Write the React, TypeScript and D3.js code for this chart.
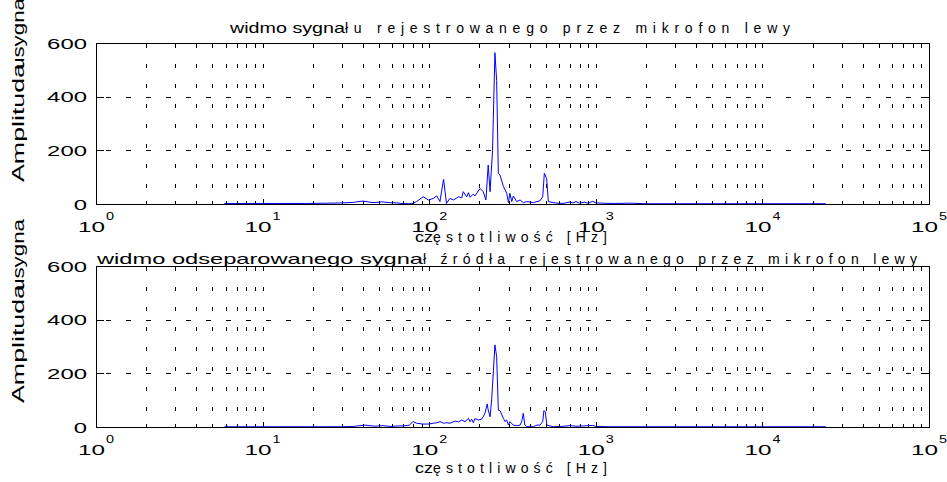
import { useEffect, useRef } from 'react';
import * as d3 from 'd3';

// amplitude axis ticks and the decade exponents of the log frequency axis
const yTicks = [0, 200, 400, 600];
const decades = [1, 10, 100, 1000, 10000, 100000];
const decadeExp = ['0', '1', '2', '3', '4', '5'];

// spectrum of the recorded signal (left microphone)
const topFreq = [5.9, 12, 18, 24, 30, 35, 40, 46, 52, 58, 64, 70, 76, 80, 84, 92, 99, 106, 111, 116, 122, 127, 133, 140, 150, 157, 160, 168, 172, 176, 184, 188, 202, 211, 219, 226, 232, 240, 248, 254, 260, 266, 279, 292, 299, 305, 313, 320, 335, 351, 367, 385, 422, 462, 480, 491, 507, 519, 556, 609, 650, 700, 730, 760, 800, 850, 900, 960, 1000, 1100, 1300, 1600, 2000, 3000, 5000, 10000, 24000];
const topAmp = [2, 2, 2, 3, 4, 6, 11, 5, 8, 5, 4, 1, 1, 2, 9, 27, 15, 21, 30, 9, 92, 2, 21, 15, 27, 23, 46, 27, 42, 25, 37, 30, 58, 46, 15, 145, 46, 200, 564, 460, 114, 108, 65, 40, 5, 40, 9, 30, 9, 15, 5, 9, 5, 12, 27, 114, 95, 9, 5, 2, 3, 8, 4, 9, 3, 7, 3, 10, 4, 3, 2, 3, 1, 1, 1, 1, 1];

// spectrum of the separated source signal
const bottomFreq = [5.9, 12, 18, 24, 30, 35, 41, 47, 53, 59, 65, 70, 76, 80, 84, 92, 99, 106, 111, 116, 122, 127, 133, 143, 150, 157, 164, 172, 176, 180, 184, 188, 197, 206, 211, 216, 223, 226, 232, 237, 243, 248, 254, 260, 266, 279, 285, 292, 299, 305, 320, 335, 351, 359, 367, 375, 385, 422, 443, 462, 480, 488, 498, 508, 556, 620, 700, 760, 850, 960, 1000, 1200, 2000, 5000, 10000, 24000];
const bottomAmp = [1, 1, 1, 1, 1, 2, 7, 3, 5, 2, 4, 4, 7, 20, 14, 11, 11, 14, 16, 20, 14, 16, 14, 22, 19, 26, 20, 32, 20, 29, 16, 31, 26, 29, 38, 51, 86, 63, 38, 101, 212, 306, 262, 63, 61, 32, 20, 26, 7, 20, 7, 5, 7, 20, 51, 7, 1, 1, 7, 7, 20, 61, 57, 7, 1, 2, 5, 3, 4, 6, 2, 1, 1, 1, 1, 1];

const topTitle = ['widmo sygna', 'łu rejestrowanego przez mikrofon lewy'];
const bottomTitle = ['widmo odseparowanego sygna', 'ł źródła rejestrowanego przez mikrofon lewy'];
const xLabel = ['cz', 'ęstotliwość [Hz]'];
const yLabel = ['Amplituda', 'usygna'];

const W = 947;
const H = 482;
const LEFT = 96;
const RIGHT = 929;
const FONT = 'Liberation Sans, Arial, Helvetica, sans-serif';

const panels = [
  {
    top: 43, bottom: 204, freq: topFreq, amp: topAmp,
    title: topTitle, titleX: [230, 345], titleW: [115, 445], titleY: 33,
    xlabY: 242, ylabY: 182,
  },
  {
    top: 266, bottom: 427, freq: bottomFreq, amp: bottomAmp,
    title: bottomTitle, titleX: [97, 423], titleW: [326, 494], titleY: 264,
    xlabY: 473, ylabY: 403,
  },
];

export default function App() {
  const svgRef = useRef<SVGSVGElement>(null);

  useEffect(() => {
    const svg = d3.select(svgRef.current);
    svg.selectAll('*').remove();

    const x = d3.scaleLog().domain([1, 1e5]).range([LEFT, RIGHT]);
    const px = (v: number) => Math.round(v) + 0.5;

    // text helper: stretched glyphs or spread spacing to match the original widths
    const addText = (g: any, str: string, tx: number, ty: number, size: number, width: number, adjust = 'spacingAndGlyphs') =>
      g.append('text')
        .attr('x', tx)
        .attr('y', ty)
        .attr('font-family', FONT)
        .attr('font-size', size)
        .attr('textLength', width)
        .attr('lengthAdjust', adjust)
        .attr('fill', '#000')
        .text(str);

    panels.forEach((p, i) => {
      const y = d3.scaleLinear().domain([0, 600]).range([p.bottom, p.top]);
      const g = svg.append('g');

      g.append('clipPath')
        .attr('id', `clip${i}`)
        .append('rect')
        .attr('x', LEFT)
        .attr('y', p.top)
        .attr('width', RIGHT - LEFT)
        .attr('height', p.bottom - p.top);

      // dotted grid
      const minor = x.ticks().filter((v) => v > 1 && v < 1e5);
      g.selectAll('.vgrid')
        .data(minor)
        .enter()
        .append('line')
        .attr('x1', (d) => px(x(d)))
        .attr('x2', (d) => px(x(d)))
        .attr('y1', p.top)
        .attr('y2', p.bottom)
        .attr('stroke', '#000')
        .attr('stroke-dasharray', '4 16')
        .attr('stroke-dashoffset', -1)
        .attr('shape-rendering', 'crispEdges');

      g.selectAll('.hgrid')
        .data(yTicks.filter((v) => v > 0 && v < 600))
        .enter()
        .append('line')
        .attr('x1', LEFT)
        .attr('x2', RIGHT)
        .attr('y1', (d) => px(y(d)))
        .attr('y2', (d) => px(y(d)))
        .attr('stroke', '#000')
        .attr('stroke-dasharray', '5 15')
        .attr('stroke-dashoffset', -10)
        .attr('shape-rendering', 'crispEdges');

      // spectrum line
      const line = d3.line<[number, number]>()
        .x((d) => x(d[0]))
        .y((d) => y(d[1]));
      g.append('path')
        .datum(d3.zip(p.freq, p.amp) as [number, number][])
        .attr('d', line)
        .attr('fill', 'none')
        .attr('stroke', '#0000ff')
        .attr('stroke-width', 1)
        .attr('clip-path', `url(#clip${i})`);

      // axes box
      g.append('rect')
        .attr('x', LEFT + 0.5)
        .attr('y', p.top + 0.5)
        .attr('width', RIGHT - LEFT)
        .attr('height', p.bottom - p.top)
        .attr('fill', 'none')
        .attr('stroke', '#000')
        .attr('shape-rendering', 'crispEdges');

      // x ticks, inward at bottom and top
      const allX = x.ticks();
      allX.forEach((v) => {
        const len = decades.includes(v) ? 5 : 3;
        const xx = px(x(v));
        g.append('line').attr('x1', xx).attr('x2', xx).attr('y1', p.bottom).attr('y2', p.bottom - len)
          .attr('stroke', '#000').attr('shape-rendering', 'crispEdges');
        g.append('line').attr('x1', xx).attr('x2', xx).attr('y1', p.top).attr('y2', p.top + len)
          .attr('stroke', '#000').attr('shape-rendering', 'crispEdges');
      });

      // y ticks left and right
      yTicks.forEach((v) => {
        const yy = px(y(v));
        g.append('line').attr('x1', LEFT).attr('x2', LEFT + 8).attr('y1', yy).attr('y2', yy)
          .attr('stroke', '#000').attr('shape-rendering', 'crispEdges');
        g.append('line').attr('x1', RIGHT - 8).attr('x2', RIGHT).attr('y1', yy).attr('y2', yy)
          .attr('stroke', '#000').attr('shape-rendering', 'crispEdges');
        const s = String(v);
        const w = 13.3 * s.length;
        addText(g, s, 87 - w, y(v) + 5.5, 14, w);
      });

      // x tick labels 10^k
      decades.forEach((v, k) => {
        const xx = x(v);
        addText(g, '10', xx - 18, p.bottom + 28, 15, 27);
        addText(g, decadeExp[k], xx + 10, p.bottom + 16, 10, 8);
      });

      // title
      addText(g, p.title[0], p.titleX[0], p.titleY, 15, p.titleW[0]);
      addText(g, p.title[1], p.titleX[1], p.titleY, 14, p.titleW[1], 'spacing');

      // x label
      addText(g, xLabel[0], 415, p.xlabY, 14, 18);
      addText(g, xLabel[1], 433, p.xlabY, 14, 174, 'spacing');

      // y label
      const yl = g.append('g').attr('transform', `translate(24, ${p.ylabY}) rotate(-90)`);
      addText(yl, yLabel[0], 0, 0, 16, 119);
      addText(yl, yLabel[1], 112, 0, 16, 72);
    });
  }, []);

  return (
    <svg
      ref={svgRef}
      width={W}
      height={H}
      style={{ position: 'absolute', left: 0, top: 0, background: '#fff' }}
    />
  );
}
